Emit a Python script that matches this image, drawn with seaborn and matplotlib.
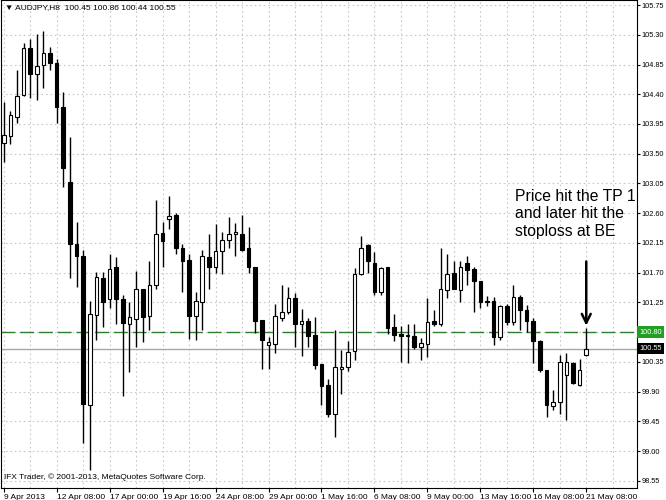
import numpy as np
import pandas as pd
import seaborn as sns
import matplotlib
matplotlib.use('Agg')
import matplotlib.pyplot as plt
from matplotlib.transforms import ScaledTranslation, blended_transform_factory

# AUDJPY H8 candles
opens = [103.67, 103.77, 104.06, 104.39, 105.10, 104.70, 104.85, 105.02, 104.87, 104.21,
         103.07, 102.14, 101.96, 99.70, 101.06, 101.62, 101.30, 101.79, 101.30, 100.92,
         101.00, 101.45, 101.05, 101.51, 102.30, 102.52, 102.57, 102.07, 101.89, 101.04,
         101.26, 101.94, 101.79, 102.03, 102.19, 102.29, 102.28, 102.07, 101.78, 100.98,
         100.60, 100.62, 101.02, 101.10, 101.32, 100.92, 100.97, 100.76, 100.32, 100.00,
         99.56, 100.25, 100.28, 100.51, 101.68, 102.12, 101.85, 101.41, 101.78, 100.88,
         100.78, 100.76, 100.74, 100.57, 100.62, 100.97, 100.93, 101.44, 101.69, 101.44,
         101.84, 101.75, 101.58, 101.27, 101.27, 100.72, 101.20, 100.96, 101.33, 101.14,
         100.97, 100.66, 100.23, 99.69, 99.75, 100.15, 100.34, 100.00, 100.45]
highs = [104.28, 104.14, 104.77, 105.17, 105.24, 105.31, 105.36, 105.12, 104.94, 104.44,
         103.76, 102.47, 102.04, 101.27, 101.71, 101.71, 101.99, 101.94, 101.37, 101.25,
         101.72, 101.45, 101.88, 102.80, 102.47, 102.86, 102.61, 102.13, 101.99, 101.41,
         102.05, 102.29, 102.44, 102.32, 102.54, 102.45, 102.58, 102.39, 101.78, 100.98,
         100.73, 101.22, 101.52, 101.48, 101.40, 101.15, 101.01, 101.03, 100.32, 100.09,
         100.83, 100.53, 100.67, 101.77, 102.26, 102.14, 102.02, 101.79, 101.78, 101.07,
         100.89, 100.93, 100.92, 100.71, 101.31, 101.14, 102.07, 101.99, 101.87, 101.87,
         101.95, 101.79, 101.58, 101.35, 101.33, 101.21, 101.23, 101.51, 101.36, 101.21,
         101.01, 100.68, 100.23, 99.92, 100.45, 100.49, 100.35, 100.40, 100.86]
lows = [103.37, 103.64, 103.96, 104.38, 104.34, 104.31, 104.49, 104.77, 103.96, 102.99,
        101.62, 101.49, 99.12, 98.72, 100.68, 100.88, 101.16, 100.92, 99.84, 100.20,
        100.57, 100.65, 100.83, 101.46, 101.79, 102.36, 101.99, 101.41, 100.70, 100.68,
        100.83, 101.45, 101.69, 101.68, 102.07, 101.95, 102.03, 101.69, 100.79, 100.24,
        100.25, 100.49, 100.97, 101.08, 100.58, 100.44, 100.57, 100.25, 99.70, 99.52,
        99.22, 99.87, 100.22, 100.38, 101.67, 101.69, 101.36, 101.36, 100.78, 100.66,
        100.35, 100.33, 100.54, 100.38, 100.42, 100.89, 100.89, 101.31, 101.45, 101.26,
        101.51, 101.11, 101.16, 101.19, 100.61, 100.68, 100.91, 100.91, 100.83, 100.81,
        100.33, 100.20, 99.52, 99.62, 99.57, 99.47, 100.02, 99.98, 100.44]
closes = [103.78, 104.08, 104.38, 105.10, 104.71, 104.83, 105.02, 104.87, 104.20, 103.29,
          102.13, 101.96, 99.71, 101.08, 101.64, 101.25, 101.76, 101.30, 100.94, 101.03,
          101.46, 101.03, 101.51, 102.28, 102.18, 102.56, 102.07, 101.87, 101.05, 101.27,
          101.95, 101.79, 102.03, 102.20, 102.28, 102.31, 102.04, 101.78, 100.97, 100.68,
          100.65, 101.04, 101.10, 101.32, 100.92, 100.97, 100.75, 100.30, 99.99, 99.56,
          100.27, 100.28, 100.50, 101.68, 102.07, 101.87, 101.41, 101.77, 100.87, 100.76,
          100.75, 100.75, 100.58, 100.63, 100.96, 100.93, 101.45, 101.68, 101.46, 101.79,
          101.74, 101.58, 101.26, 101.26, 100.72, 101.19, 100.96, 101.33, 101.14, 100.97,
          100.66, 100.23, 99.70, 99.75, 100.35, 100.35, 100.03, 100.23, 100.55]

time_labels = ['9 Apr 2013', '12 Apr 08:00', '17 Apr 00:00', '19 Apr 16:00', '24 Apr 08:00',
               '29 Apr 00:00', '1 May 16:00', '6 May 08:00', '9 May 00:00', '13 May 16:00',
               '16 May 08:00', '21 May 08:00']
be_level = 100.80
bid_price = 100.55

df = pd.DataFrame({'open': opens, 'high': highs, 'low': lows, 'close': closes})
df['bar'] = np.arange(len(df))
up = df['close'] >= df['open']

sns.set_theme(style="white")
plt.rcParams['font.family'] = ['Liberation Sans', 'DejaVu Sans']

fig = plt.figure(figsize=(6.66, 5.0), dpi=100)
ax = fig.add_axes([0.0015, 0.024, 0.955, 0.976])

# wicks then bodies
ax.vlines(df['bar'], df['low'], df['high'], color='black', lw=1, zorder=3)
bull = df[up]
bear = df[~up]
ax.bar(bull['bar'], np.maximum(bull['close'] - bull['open'], 0.012), bottom=bull['open'],
       width=0.55, color='white', edgecolor='black', linewidth=0.8, zorder=4)
ax.bar(bear['bar'], np.maximum(bear['open'] - bear['close'], 0.012), bottom=bear['close'],
       width=0.55, color='black', edgecolor='black', linewidth=0.8, zorder=4)

# BE line and current bid line
ax.axhline(be_level, color='#2f7d2f', lw=1, ls=(0, (10, 3.5)), zorder=2)
ax.axhline(bid_price, color='#a8a8a8', lw=1, zorder=2)

ax.set_xlim(-0.41, 95.67)
ax.set_ylim(98.443, 105.826)

yt = np.round(np.arange(98.55, 105.76, 0.45), 2)
ax.set_yticks(yt)
ax.set_yticklabels(['' if abs(v - be_level) < 1e-6 else f'{v:.2f}' for v in yt])
ax.yaxis.tick_right()

ax.set_xticks(np.arange(0, 89, 8))
ax.set_xticklabels(time_labels)
ax.set_xticks(np.arange(4, 96, 8), minor=True)
for lab in ax.get_xticklabels():
    lab.set_horizontalalignment('left')
    lab.set_transform(lab.get_transform() + ScaledTranslation(1 / 100, 0, fig.dpi_scale_trans))

ax.tick_params(axis='y', which='major', direction='out', length=2, width=0.8, pad=1,
               labelsize=5.3, colors='black', right=True, left=False)
ax.tick_params(axis='x', which='major', direction='out', length=3, width=0.8, pad=1.5,
               labelsize=6, colors='black', bottom=True)
ax.tick_params(axis='x', which='minor', length=0)

ax.grid(True, which='both', axis='x', color='#c8c8c8', lw=0.8, ls=(0, (1.5, 2.5)), zorder=0)
ax.grid(True, which='major', axis='y', color='#c8c8c8', lw=0.8, ls=(0, (1.5, 2.5)), zorder=0)

for s in ax.spines.values():
    s.set_color('black')
    s.set_linewidth(0.8)

tr = blended_transform_factory(ax.transAxes, ax.transData)
ax.text(1.004, be_level, f'{be_level:.2f}', transform=tr, ha='left', va='center', fontsize=5.3,
        color='white', bbox=dict(boxstyle='square,pad=0.3', fc='#22a022', ec='none'), clip_on=False)
ax.text(1.004, bid_price, f'{bid_price:.2f}', transform=tr, ha='left', va='center', fontsize=5.3,
        color='white', bbox=dict(boxstyle='square,pad=0.3', fc='black', ec='none'), clip_on=False)

ax.text(0.007, 0.992, '▼ AUDJPY,H8  100.45 100.86 100.44 100.55', transform=ax.transAxes,
        ha='left', va='top', fontsize=6, color='black')
ax.text(0.005, 0.022, 'IFX Trader, © 2001-2013, MetaQuotes Software Corp.', transform=ax.transAxes,
        ha='left', va='center', fontsize=6, color='black')

ax.text(77.3, 102.97, 'Price hit the TP 1\nand later hit the\nstoploss at BE', ha='left', va='top',
        fontsize=11.3, color='black')
ax.annotate('', xy=(88, 100.90), xytext=(88, 101.87),
            arrowprops=dict(arrowstyle='->', color='black', lw=1.8, mutation_scale=16,
                            shrinkA=0, shrinkB=0))

fig.savefig('out.png', dpi=100)
